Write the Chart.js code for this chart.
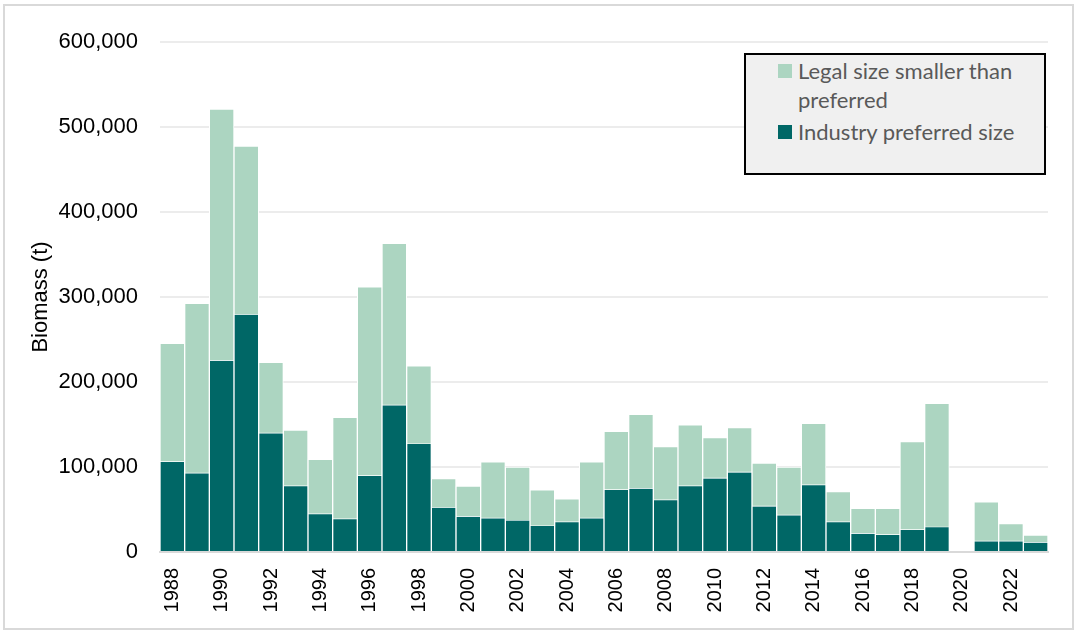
<!DOCTYPE html>
<html>
<head>
<meta charset="utf-8">
<script src="https://cdn.jsdelivr.net/npm/chart.js@4"></script>
<style>
  html, body { margin: 0; padding: 0; background: #fff; }
  #wrap { position: relative; width: 1080px; height: 635px; }
  #frame { position: absolute; left: 3px; top: 4px; width: 1071px; height: 626px; border: 2px solid #d9d9d9; box-sizing: border-box; pointer-events: none; }
  #legend {
    position: absolute; left: 744px; top: 53px; width: 302px; height: 122px;
    box-sizing: border-box; border: 2px solid #000; background: #f0f0f0;
    font-family: Lato, "Open Sans", sans-serif; font-size: 22px; color: #595959;
    padding: 1px 8px 0 32px; line-height: 29px;
  }
  .item { position: relative; padding-left: 20px; margin-bottom: 3px; }
  .sw { position: absolute; left: 0; top: 8px; width: 14px; height: 14px; }
</style>
</head>
<body>
<div id="wrap">
  <canvas id="chart" width="1080" height="635"></canvas>
  <div id="frame"></div>
  <div id="legend"></div>
</div>
<script>
const years = ["1988","1989","1990","1991","1992","1993","1994","1995","1996","1997","1998","1999",
  "2000","2001","2002","2003","2004","2005","2006","2007","2008","2009","2010","2011",
  "2012","2013","2014","2015","2016","2017","2018","2019","2020","2021","2022","2023"];

// Industry preferred size (t)
const preferred = [106000, 92500, 225000, 279000, 139500, 77500, 44500, 38500, 89500, 172500, 127000, 52000,
  41500, 39500, 37000, 30500, 35000, 39500, 73000, 74500, 61000, 77500, 86500, 93500,
  53500, 43000, 78500, 35000, 21500, 20000, 26000, 29000, 0, 12500, 12500, 11000];

const totals = [245500, 292500, 521000, 477500, 223000, 143500, 109000, 158500, 312000, 363000, 219000, 86500,
  77500, 106000, 100000, 73000, 62500, 106000, 142000, 162000, 124000, 149500, 134500, 146500,
  104500, 100000, 151500, 71000, 51500, 51500, 130000, 175000, 0, 59000, 33500, 20000];

// Legal size smaller than preferred (t)
const smaller = totals.map((t, i) => t - preferred[i]);

const yTicks = [0, 100000, 200000, 300000, 400000, 500000, 600000];

const legendItems = [
  { label: "Legal size smaller than preferred", color: "#acd5c1" },
  { label: "Industry preferred size", color: "#006766" }
];

const legendBox = document.getElementById("legend");
legendBox.innerHTML = legendItems.map(it =>
  `<div class="item"><span class="sw" style="background:${it.color}"></span>${it.label}</div>`
).join("");

const ctx = document.getElementById("chart").getContext("2d");
new Chart(ctx, {
  type: "bar",
  data: {
    labels: years,
    datasets: [
      {
        label: "Industry preferred size",
        data: preferred,
        backgroundColor: "#006766",
        borderColor: "#ffffff",
        borderWidth: { left: 1, right: 1, top: 0, bottom: 0 },
        borderSkipped: false
      },
      {
        label: "Legal size smaller than preferred",
        data: smaller,
        backgroundColor: "#acd5c1",
        borderColor: "#ffffff",
        borderWidth: { left: 1, right: 1, top: 1, bottom: 1 },
        borderSkipped: false
      }
    ]
  },
  options: {
    responsive: false,
    animation: false,
    layout: { padding: { left: 0, right: 32, top: 42, bottom: 0 } },
    plugins: { legend: { display: false }, tooltip: { enabled: false } },
    datasets: { bar: { barPercentage: 1, categoryPercentage: 1 } },
    scales: {
      x: {
        stacked: true,
        grid: { display: false, drawTicks: false },
        border: { color: "#d9d9d9", width: 2 },
        afterFit: s => { s.height = 83; },
        ticks: {
          autoSkip: false,
          maxRotation: 90,
          minRotation: 90,
          padding: 16,
          color: "#000",
          font: { family: "Liberation Sans, Arial, sans-serif", size: 20 },
          callback: function (v, i) { return i % 2 === 0 ? years[i] : ""; }
        }
      },
      y: {
        stacked: true,
        min: 0,
        max: 600000,
        afterFit: s => { s.width = 160; },
        afterBuildTicks: s => { s.ticks = yTicks.map(v => ({ value: v })); },
        grid: { color: "#ececec", lineWidth: 2, drawTicks: false },
        border: { display: false },
        ticks: {
          padding: 22,
          color: "#000",
          font: { family: "Liberation Sans, Arial, sans-serif", size: 22 },
          callback: v => v.toLocaleString("en-US")
        },
        title: {
          display: true,
          text: "Biomass (t)",
          color: "#000",
          padding: { top: 28, bottom: 0 },
          font: { family: "Liberation Sans, Arial, sans-serif", size: 22 }
        }
      }
    }
  }
});
</script>
</body>
</html>
